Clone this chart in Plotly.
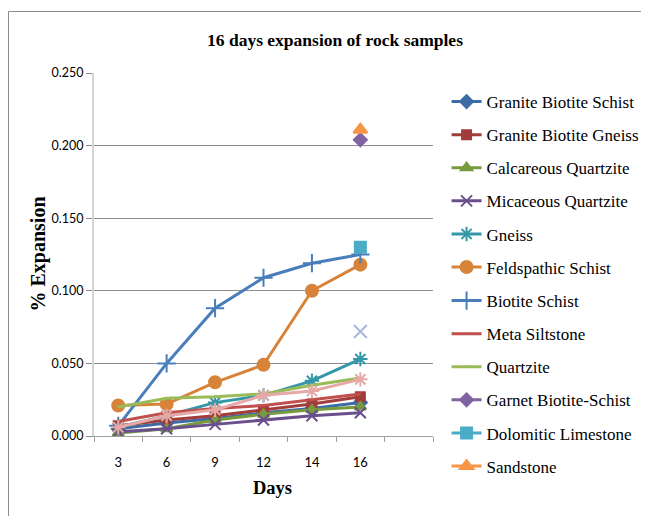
import plotly.graph_objects as go

days = ["3", "6", "9", "12", "14", "16"]

granite_biotite_schist = [0.005, 0.009, 0.012, 0.016, 0.019, 0.023]
granite_biotite_gneiss = [0.007, 0.011, 0.014, 0.018, 0.022, 0.027]
calcareous_quartzite = [0.002, 0.005, 0.011, 0.015, 0.018, 0.020]
micaceous_quartzite = [0.003, 0.005, 0.008, 0.011, 0.014, 0.016]
gneiss = [0.006, 0.014, 0.023, 0.028, 0.038, 0.053]
feldspathic_schist = [0.021, 0.022, 0.037, 0.049, 0.100, 0.118]
biotite_schist = [0.007, 0.050, 0.088, 0.109, 0.119, 0.125]
meta_siltstone = [0.010, 0.016, 0.019, 0.021, 0.025, 0.029]
quartzite = [0.020, 0.026, 0.027, 0.029, 0.035, 0.040]
garnet_biotite_schist = [None, None, None, None, None, 0.204]
dolomitic_limestone = [None, None, None, None, None, 0.130]
sandstone = [None, None, None, None, None, 0.211]
extra_series_13 = [None, None, None, None, None, 0.072]
extra_series_14 = [0.006, 0.014, 0.018, 0.028, 0.031, 0.039]

series = [
    ("Granite Biotite Schist", granite_biotite_schist, "#3C6BA5", "diamond", 10, True),
    ("Granite Biotite Gneiss", granite_biotite_gneiss, "#A23C3A", "square", 9, True),
    ("Calcareous Quartzite", calcareous_quartzite, "#779A3E", "triangle-up", 10, True),
    ("Micaceous Quartzite", micaceous_quartzite, "#6A4F8C", "x-thin-open", 11, True),
    ("Gneiss", gneiss, "#3497A8", "asterisk-open", 12, True),
    ("Feldspathic Schist", feldspathic_schist, "#D7843A", "circle", 12, True),
    ("Biotite Schist", biotite_schist, "#4A7EBB", "cross-thin-open", 13, True),
    ("Meta Siltstone", meta_siltstone, "#C0504D", "line-ew", 1, True),
    ("Quartzite", quartzite, "#9BBB59", "line-ew", 1, True),
    ("Garnet Biotite-Schist", garnet_biotite_schist, "#8064A2", "diamond", 10, True),
    ("Dolomitic Limestone", dolomitic_limestone, "#4BACC6", "square", 11, True),
    ("Sandstone", sandstone, "#F79646", "triangle-up", 12, True),
    ("Series 13", extra_series_13, "#A9B8DC", "x-thin-open", 13, False),
    ("Series 14", extra_series_14, "#E6A9A8", "asterisk-open", 12, False),
]

xpos = list(range(len(days)))

# figure is offset by the page's 8px body margin
W, H = 641, 508
L, T = 86, 65
PW, PH = 339, 363

fig = go.Figure()
for i, (name, vals, color, sym, size, show) in enumerate(series):
    fig.add_trace(go.Scatter(
        x=xpos, y=vals, name=name, mode="lines+markers",
        line=dict(color=color, width=3),
        marker=dict(symbol=sym, size=size, color=color,
                    line=dict(color=color, width=2)),
        showlegend=show, legendgroup=f"g{i}",
        legend="legend" if i < 6 else "legend2",
    ))

legend_font = dict(family="Liberation Serif", size=17, color="black")
LX = 1.040

fig.update_layout(
    width=W, height=H,
    margin=dict(l=L, r=W - L - PW, t=T, b=H - T - PH, autoexpand=False),
    paper_bgcolor="white", plot_bgcolor="white",
    title=dict(text="<b>16 days expansion of rock samples</b>",
               font=dict(family="Liberation Serif", size=17.5, color="black"),
               x=327 / W, xref="container", xanchor="center",
               y=1 - 32 / H, yref="container", yanchor="middle"),
    showlegend=True,
    legend=dict(x=LX, xanchor="left", y=1 - (76 - T) / PH, yanchor="top",
                font=legend_font, tracegroupgap=8, bgcolor="rgba(0,0,0,0)"),
    legend2=dict(x=LX, xanchor="left", y=1 - (275 - T) / PH, yanchor="top",
                 font=legend_font, tracegroupgap=8, bgcolor="rgba(0,0,0,0)"),
    xaxis=dict(range=[-0.5, 6.5], tickvals=xpos, ticktext=days,
               showgrid=False, zeroline=False,
               showline=True, linecolor="#A0A0A0", linewidth=1,
               ticks="outside", ticklen=14, tickcolor="rgba(0,0,0,0)",
               tickfont=dict(family="Lato", size=13, color="black"),
               minor=dict(tickvals=[-0.5, 0.5, 1.5, 2.5, 3.5, 4.5, 5.5, 6.5],
                          ticks="outside", ticklen=5, tickcolor="#A0A0A0",
                          showgrid=False)),
    yaxis=dict(range=[0, 0.25], dtick=0.05, tickformat=".3f",
               showgrid=True, gridcolor="#8C8C8C", gridwidth=1,
               zeroline=False,
               showline=True, linecolor="#D4D4D4", linewidth=2,
               ticks="outside", ticklen=6, tickcolor="#8C8C8C",
               tickfont=dict(family="Lato", size=12.5, color="black")),
    annotations=[
        dict(text="<b>% Expansion</b>", xref="paper", yref="paper",
             x=(30 - L) / PW, y=0.5, textangle=-90, showarrow=False,
             font=dict(family="Liberation Serif", size=20, color="black"),
             xanchor="center", yanchor="middle"),
        dict(text="<b>Days</b>", xref="paper", yref="paper",
             x=(264 - L) / PW, y=-(480 - (T + PH)) / PH, showarrow=False,
             font=dict(family="Liberation Serif", size=18.5, color="black"),
             xanchor="center", yanchor="middle"),
    ],
    shapes=[dict(type="rect", xref="paper", yref="paper",
                 x0=(0.5 - L) / PW, x1=(700 - L) / PW,
                 y0=-(560 - (T + PH)) / PH, y1=1 + (T - 3.5) / PH,
                 line=dict(color="#8C8C8C", width=1), layer="below")],
)

fig.write_html("out.html")
